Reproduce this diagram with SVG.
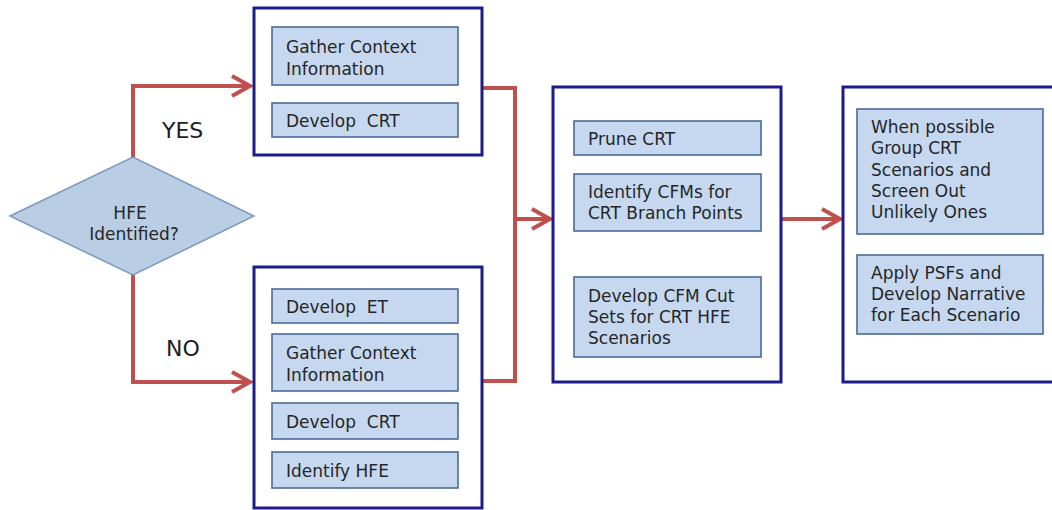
<svg xmlns="http://www.w3.org/2000/svg" width="1052" height="510" viewBox="0 0 1052 510">
  <defs>
    <style>
      .outer { fill: #ffffff; stroke: #1c1c8a; stroke-width: 3; }
      .step { fill: #c5d8f0; stroke: #4b6a96; stroke-width: 1.6; }
      .txt { font-family: "DejaVu Sans", "Liberation Sans", sans-serif; font-size: 17px; fill: #262626; }
      .lbl { font-family: "DejaVu Sans", "Liberation Sans", sans-serif; font-size: 22px; fill: #1e1e1e; }
      .flow { fill: none; stroke: #c0504d; stroke-width: 4; stroke-linejoin: miter; }
    </style>
    <marker id="head" markerUnits="userSpaceOnUse" markerWidth="30" markerHeight="30" refX="22" refY="12" orient="auto" viewBox="0 0 30 24">
      <path d="M3,2 L21,12 L3,22" fill="none" stroke="#c0504d" stroke-width="4" stroke-linejoin="miter"/>
    </marker>
  </defs>

  <rect width="1052" height="510" fill="#ffffff"/>

  <!-- connectors -->
  <g id="connectors">
    <path class="flow" d="M133,157 V86 H251" marker-end="url(#head)"/>
    <path class="flow" d="M133,275 V382 H251" marker-end="url(#head)"/>
    <path class="flow" d="M482,88 H515 V381 H482"/>
    <path class="flow" d="M515,219 H551" marker-end="url(#head)"/>
    <path class="flow" d="M781,219 H841" marker-end="url(#head)"/>
    <text class="lbl" x="162" y="138">YES</text>
    <text class="lbl" x="166" y="356" font-size="23">NO</text>
  </g>

  <!-- decision -->
  <g id="decision">
    <polygon points="10,216 133,157 254,216 133,275" fill="#b9cde5" stroke="#7d98bf" stroke-width="1.5"/>
    <text class="txt" x="130" y="219" font-size="15" text-anchor="middle">HFE</text>
    <text class="txt" x="134" y="240" font-size="15" text-anchor="middle">Identified?</text>
  </g>

  <!-- upper branch (HFE identified) -->
  <g id="yes-branch">
    <rect class="outer" x="254" y="8" width="228" height="147"/>
    <rect class="step" x="272" y="27" width="186" height="58"/>
    <text class="txt" x="286" y="53">Gather Context</text>
    <text class="txt" x="286" y="75">Information</text>
    <rect class="step" x="272" y="103" width="186" height="34"/>
    <text class="txt" x="286" y="127" xml:space="preserve">Develop  CRT</text>
  </g>

  <!-- lower branch (HFE not identified) -->
  <g id="no-branch">
    <rect class="outer" x="254" y="267" width="228" height="241"/>
    <rect class="step" x="272" y="289" width="186" height="34"/>
    <text class="txt" x="286" y="313" xml:space="preserve">Develop  ET</text>
    <rect class="step" x="272" y="334" width="186" height="57"/>
    <text class="txt" x="286" y="359">Gather Context</text>
    <text class="txt" x="286" y="381">Information</text>
    <rect class="step" x="272" y="403" width="186" height="36"/>
    <text class="txt" x="286" y="428" xml:space="preserve">Develop  CRT</text>
    <rect class="step" x="272" y="452" width="186" height="36"/>
    <text class="txt" x="286" y="477">Identify HFE</text>
  </g>

  <!-- CRT analysis -->
  <g id="crt-analysis">
    <rect class="outer" x="553" y="87" width="228" height="295"/>
    <rect class="step" x="574" y="121" width="187" height="34"/>
    <text class="txt" x="588" y="145">Prune CRT</text>
    <rect class="step" x="574" y="174" width="187" height="57"/>
    <text class="txt" x="588" y="198">Identify CFMs for</text>
    <text class="txt" x="588" y="219">CRT Branch Points</text>
    <rect class="step" x="574" y="277" width="187" height="80"/>
    <text class="txt" x="588" y="302">Develop CFM Cut</text>
    <text class="txt" x="588" y="323">Sets for CRT HFE</text>
    <text class="txt" x="588" y="344">Scenarios</text>
  </g>

  <!-- scenario screening -->
  <g id="scenarios">
    <rect class="outer" x="843" y="87" width="214" height="295"/>
    <rect class="step" x="857" y="109" width="186" height="125"/>
    <text class="txt" x="871" y="133">When possible</text>
    <text class="txt" x="871" y="154">Group CRT</text>
    <text class="txt" x="871" y="176">Scenarios and</text>
    <text class="txt" x="871" y="197">Screen Out</text>
    <text class="txt" x="871" y="218">Unlikely Ones</text>
    <rect class="step" x="857" y="255" width="186" height="79"/>
    <text class="txt" x="871" y="279">Apply PSFs and</text>
    <text class="txt" x="871" y="300">Develop Narrative</text>
    <text class="txt" x="871" y="321">for Each Scenario</text>
  </g>
</svg>
